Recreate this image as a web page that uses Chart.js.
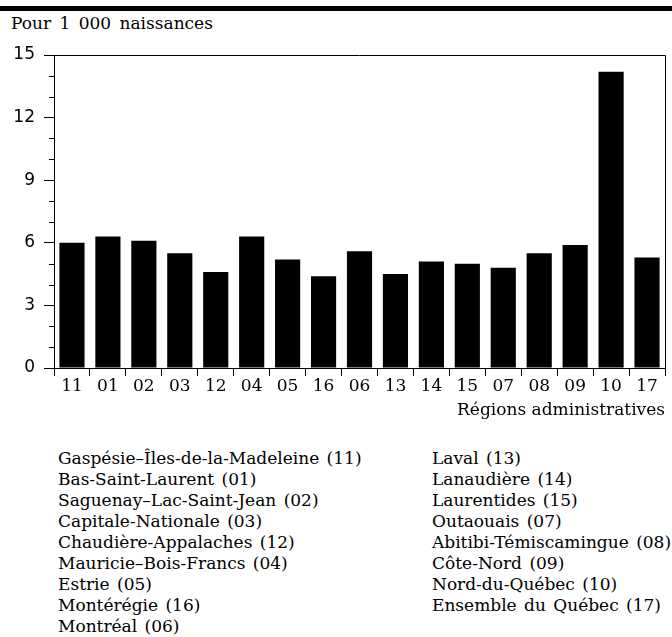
<!DOCTYPE html>
<html lang="fr">
<head>
<meta charset="utf-8">
<script src="https://cdn.jsdelivr.net/npm/chart.js@4/dist/chart.umd.min.js"></script>
<style>
  body { margin: 0; background: #fff; width: 672px; height: 637px; position: relative; overflow: hidden; }
  #rule { position: absolute; left: 0; top: 6px; width: 672px; height: 5px; background: #000; }
  #unit { position: absolute; left: 11px; top: 13px; font: 17px "DejaVu Serif", serif; color: #000; word-spacing: 3px; }
  #chart { position: absolute; left: 0; top: 0; }
  .col { position: absolute; top: 448px; font: 17px "DejaVu Serif", serif; line-height: 21px; color: #000; white-space: nowrap; word-spacing: 2px; }
</style>
</head>
<body>
<div id="rule"></div>
<div id="unit">Pour 1 000 naissances</div>
<canvas id="chart" width="672" height="421"></canvas>
<div class="col" id="legLeft" style="left:58px"></div>
<div class="col" id="legRight" style="left:432px"></div>

<script>
// Region codes, in the order shown on the x axis
const codes = ['11', '01', '02', '03', '12', '04', '05', '16', '06', '13', '14', '15', '07', '08', '09', '10', '17'];
// Rate per 1 000 births
const rates = [6.0, 6.3, 6.1, 5.5, 4.6, 6.3, 5.2, 4.4, 5.6, 4.5, 5.1, 5.0, 4.8, 5.5, 5.9, 14.2, 5.3];
// Region names for the key under the chart
const regionNames = [
    'Gaspésie–Îles-de-la-Madeleine', 'Bas-Saint-Laurent', 'Saguenay–Lac-Saint-Jean',
    'Capitale-Nationale', 'Chaudière-Appalaches', 'Mauricie–Bois-Francs', 'Estrie',
    'Montérégie', 'Montréal', 'Laval', 'Lanaudière', 'Laurentides', 'Outaouais',
    'Abitibi-Témiscamingue', 'Côte-Nord', 'Nord-du-Québec', 'Ensemble du Québec'
];
const yTicks = [0, 3, 6, 9, 12, 15];

// Build the two legend columns
const keyLines = regionNames.map((name, i) => `${name} (${codes[i]})`);
document.getElementById('legLeft').innerHTML = keyLines.slice(0, 9).join('<br>');
document.getElementById('legRight').innerHTML = keyLines.slice(9).join('<br>');

// Frame on top/right + short minor ticks on the y axis
const framePlugin = {
    id: 'frame',
    afterDraw(chart) {
        const ctx = chart.ctx;
        const area = chart.chartArea;
        const y = chart.scales.y;
        ctx.save();
        ctx.strokeStyle = '#000';
        ctx.lineWidth = 1;
        ctx.beginPath();
        ctx.moveTo(area.left, Math.round(area.top) + 0.5);
        ctx.lineTo(Math.round(area.right) + 0.5, Math.round(area.top) + 0.5);
        ctx.lineTo(Math.round(area.right) + 0.5, area.bottom);
        for (let v = y.min; v <= y.max; v++) {
            if (yTicks.includes(v)) continue;
            const py = Math.round(y.getPixelForValue(v)) + 0.5;
            ctx.moveTo(area.left - 5, py);
            ctx.lineTo(area.left, py);
        }
        ctx.stroke();
        ctx.restore();
    }
};

const ctx = document.getElementById('chart').getContext('2d');
new Chart(ctx, {
    type: 'bar',
    data: {
        labels: codes,
        datasets: [{
            data: rates,
            backgroundColor: '#000',
            borderWidth: 0,
            barPercentage: 0.7,
            categoryPercentage: 1
        }]
    },
    options: {
        responsive: false,
        animation: false,
        layout: { padding: { left: 0, top: 55, right: 7, bottom: 0 } },
        plugins: {
            legend: { display: false },
            tooltip: { enabled: false }
        },
        scales: {
            x: {
                afterFit: (scale) => { scale.height = 53; },
                grid: { drawOnChartArea: false, offset: true, tickLength: 8, color: '#000', lineWidth: 1 },
                border: { color: '#000', width: 1 },
                ticks: {
                    color: '#000',
                    font: { family: 'DejaVu Serif', size: 17 },
                    padding: 0,
                    maxRotation: 0,
                    autoSkip: false
                },
                title: {
                    display: true,
                    text: 'Régions administratives',
                    align: 'end',
                    color: '#000',
                    font: { family: 'DejaVu Serif', size: 17 },
                    padding: { top: 0, bottom: 0 }
                }
            },
            y: {
                min: 0,
                max: 15,
                afterFit: (scale) => { scale.width = 54; },
                grid: { drawOnChartArea: false, tickLength: 10, color: '#000', lineWidth: 1 },
                border: { color: '#000', width: 1 },
                ticks: {
                    stepSize: 3,
                    color: '#000',
                    font: { family: 'DejaVu Sans', size: 17 },
                    padding: 9
                }
            }
        }
    },
    plugins: [framePlugin]
});
</script>
</body>
</html>
